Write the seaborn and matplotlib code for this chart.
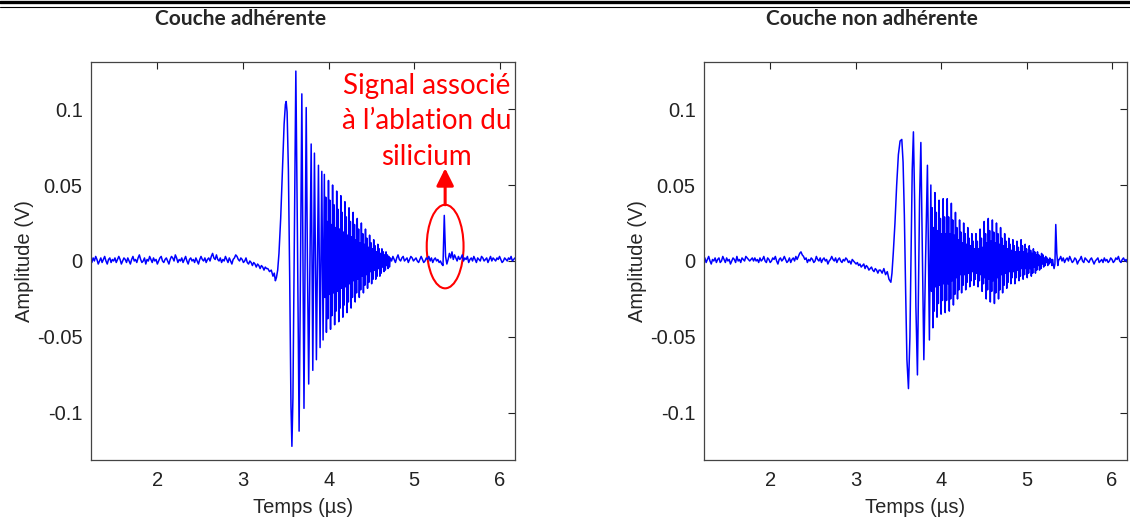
import numpy as np
import matplotlib
matplotlib.use("Agg")
import matplotlib.pyplot as plt
from matplotlib.patches import Ellipse
from matplotlib.lines import Line2D
import seaborn as sns

# ---- data (amplitudes in mV) ----
titles = ["Couche adhérente", "Couche non adhérente"]
xticks = [2, 3, 4, 5, 6]
yticks = [-0.1, -0.05, 0, 0.05, 0.1]
ytick_labels = ["-0.1", "-0.05", "0", "0.05", "0.1"]

# baseline before the burst, one sample every 0.015 us from 1.22 us
left_pre_mv = [1, -1, 2, 0, 3, 1, -2, 0, 2, -1, 1, 3, 0, -2, 1, 2, -1, 1, 0, 2,
               -1, 1, 3, 1, -2, 0, 2, 1, -1, 2, 0, -2, 1, 3, 0, 1, -1, 2, 4, 1,
               -1, 0, 2, -2, 1, 0, 3, 1, -1, 2, 0, 1, -2, 0, 2, 3, 0, -1, 1, 2,
               0, -2, 1, 3, 2, 0, 4, 2, -1, 1, 0, 2, -1, 1, 3, 0, -2, 1, 2, 0,
               1, -1, 2, 0, -2, 1, 3, 1, 0, 2, -1, 1, 2, 0, 3, 5, 2, 1, 4, 1,
               0, 2, -1, 1, 0, 3, 1, -1, 2, 0, -2, 1, 2, 4, 3, 1, 0, 2, 1, -1,
               0, 2, -1, -2, 0, -1, -3, -1, -2, -4, -2, -3, -5, -3, -4, -6, -4, -5]
right_pre_mv = [0, 2, -1, 1, 3, 0, -2, 1, 0, 2, -1, 1, 2, -1, 0, 3, 1, -1, 2, 0,
                1, -2, 0, 2, 1, -1, 3, 0, 1, -1, 2, 1, 0, 3, 2, 1, 0, 1, 2, 0,
                2, 0, 1, -1, 2, 0, 1, 3, 0, -1, 2, 1, -1, 0, 2, 1, 3, 0, -2, 1,
                2, 0, 1, 3, 1, -1, 0, 2, -1, 1, 2, 0, 3, 1, 3, 5, 6, 4, 3, 1,
                2, -1, 1, 0, 2, 1, -1, 0, 3, 1, 0, 2, -1, 1, 2, 0, 1, -2, 0, 1,
                3, 1, 0, 2, -1, 1, 2, 0, -1, 1, 0, 2, 1, -1, 0, -2, 1, 0, -1, -2,
                -1, -3, -2, -4, -3, -2, -5, -3, -4, -6, -5, -4, -6, -7, -5, -6, -8, -6]

# onset and first large cycles: extrema (time in us, amplitude in mV)
left_burst_t = [3.29, 3.31, 3.33, 3.35, 3.365, 3.378, 3.39, 3.405, 3.42, 3.44,
                3.46, 3.48, 3.495, 3.504, 3.515, 3.53, 3.545, 3.56, 3.571, 3.583,
                3.60, 3.617, 3.635, 3.655, 3.672, 3.687, 3.70, 3.712, 3.725, 3.738,
                3.752, 3.767, 3.782, 3.796, 3.815, 3.834, 3.857, 3.881, 3.900, 3.920,
                3.935]
left_burst_mv = [-5, -7, -6, -10, -8, -13, -11, -6, 5, 28,
                 60, 90, 103, 105, 98, 60, -10, -95, -122, -90,
                 20, 125, 20, -112, 0, 110, 0, -97, 0, 101,
                 0, -81, 0, 77, -72, 71, -65, 63, -57, 59,
                 -52]
right_burst_t = [3.29, 3.31, 3.33, 3.35, 3.37, 3.39, 3.412, 3.425, 3.44, 3.46,
                 3.48, 3.50, 3.52, 3.540, 3.555, 3.57, 3.585, 3.60, 3.618, 3.635,
                 3.65, 3.662, 3.676, 3.69, 3.705, 3.723, 3.735, 3.748, 3.763, 3.78,
                 3.798, 3.818, 3.840, 3.863]
right_burst_mv = [-6, -8, -5, -9, -7, -12, -14, -8, 5, 25,
                  50, 70, 79, 80, 65, 30, -20, -65, -84, -50,
                  10, 60, 85, 40, -30, -75, -20, 40, 78, 10,
                  -65, 0, 63, -52]

# dense decaying part, one sample every 0.008 us (left from 3.95 us, right from 3.88 us)
left_dense_mv = [57, -24, 42, -47, 26, -38,
                 53, -22, 40, -45, 24, -36,
                 50, -21, 37, -42, 22, -33,
                 46, -20, 34, -40, 21, -31,
                 43, -18, 32, -37, 19, -29,
                 39, -17, 29, -34, 17, -27,
                 35, -15, 26, -31, 16, -24,
                 32, -13, 24, -27, 14, -21,
                 28, -12, 21, -24, 12, -19,
                 25, -10, 18, -21, 11, -16,
                 21, -9, 15, -18, 9, -14,
                 17, -7, 12, -15, 8, -12,
                 14, -6, 10, -12, 6, -10,
                 11, -5, 8, -10, 5, -8,
                 8, -4, 6, -7, 4, -6,
                 6, -3, 4, -5, 3, -4]
right_dense_mv = [50, -20, 35, -44, 22, -33,
                  45, -17, 32, -37, 20, -28,
                  40, -16, 28, -35, 18, -26,
                  41, -15, 29, -34, 18, -26,
                  41, -15, 29, -33, 18, -25,
                  38, -13, 27, -29, 17, -22,
                  32, -11, 22, -25, 14, -19,
                  27, -9, 19, -21, 12, -16,
                  25, -9, 18, -19, 11, -14,
                  22, -8, 15, -17, 10, -13,
                  18, -7, 13, -16, 8, -12,
                  18, -8, 13, -17, 8, -13,
                  21, -9, 15, -20, 9, -15,
                  26, -11, 18, -25, 12, -19,
                  28, -12, 20, -27, 13, -20,
                  27, -13, 19, -28, 12, -21,
                  25, -11, 18, -25, 11, -19,
                  22, -9, 15, -21, 10, -16,
                  18, -8, 13, -18, 8, -14,
                  15, -7, 11, -15, 7, -11,
                  14, -7, 10, -15, 6, -11,
                  13, -6, 9, -13, 6, -10,
                  14, -5, 10, -12, 6, -9,
                  11, -5, 8, -11, 5, -8,
                  10, -5, 7, -10, 5, -8,
                  8, -4, 6, -8, 4, -6,
                  6, -3, 4, -6, 3, -5,
                  5, -2, 4, -4, 2, -3,
                  3, -1, 2, -3, 1, -2,
                  2, -1, 1, -3, 1, -2]

# silicon ablation spike on the right trace
right_spike_t = [5.322, 5.332, 5.342, 5.354, 5.366, 5.376]
right_spike_mv = [-5, -2, 24, 5, -3, 1]

# tail, one sample every 0.015 us (left from 4.72 us, spike included; right from 5.385 us)
left_post_mv = [2, 0, 3, 1, -1, 2, 4, 1, 0, 2, 3, 0, 1, 2, -1, 1, 3, 2, 0, 1,
                2, 0, -1, 1, 3, 1, -1, 0, 2, 1, 3, 0, 2, -1, 1, 2, 0, 1, -1, 0,
                -2, -3,
                30,
                3, -2, 1, 5, 2, 6, 1, 4, 2,
                0, 3, 1, 2, 4, 0, 2, 1, 3, -1, 1, 2, 0, 3, 1, -1, 2, 1, 0, 3,
                2, 0, 1, 2, -1, 1, 3, 0, 2, 1, 0, 2, 1, 3, 1, -1, 0, 2, 1, 0,
                2, 1, 3, 0, 1, 2]
right_post_mv = [1, 3, 0, 2, -1, 1, 2, 0, 3, 1, -1, 0, 2, 1, -2, 0, 1, 3, 0, -1,
                 2, 1, 0, -1, 1, 2, 0, -2, 0, 1, 2, -1, 0, 1, -1, 2, 0, 1, -1, 0,
                 2, 1, -1, 0, 2, 1, 3, 0, -1, 1, 2, 0, 1, -1]


def grid(start, step, values):
    return start + step * np.arange(len(values)), np.asarray(values, float)


def build(segments):
    t = np.concatenate([np.asarray(s[0], float) for s in segments])
    v = np.concatenate([np.asarray(s[1], float) for s in segments]) / 1000.0
    return t, v


signals = [
    build([grid(1.22, 0.015, left_pre_mv), (left_burst_t, left_burst_mv),
           grid(3.95, 0.008, left_dense_mv), grid(4.72, 0.015, left_post_mv)]),
    build([grid(1.22, 0.015, right_pre_mv), (right_burst_t, right_burst_mv),
           grid(3.88, 0.008, right_dense_mv), (right_spike_t, right_spike_mv),
           grid(5.385, 0.015, right_post_mv)]),
]

# ---- figure ----
sns.set_style("white")
plt.rcParams["font.family"] = ["Liberation Sans", "DejaVu Sans"]

fig = plt.figure(figsize=(11.3, 5.19), dpi=100)
positions = [[0.0805, 0.1137, 0.3752, 0.7669], [0.623, 0.1137, 0.3743, 0.7669]]
title_x = [0.213, 0.772]

for i, (t, v) in enumerate(signals):
    ax = fig.add_axes(positions[i])
    sns.lineplot(x=t, y=v, ax=ax, color="#0000ff", linewidth=1.1,
                 estimator=None, sort=False)
    ax.set_xlim(1.225, 6.175)
    ax.set_ylim(-0.131, 0.131)
    ax.set_xticks(xticks)
    ax.set_xticklabels([str(x) for x in xticks])
    ax.set_yticks(yticks)
    ax.set_yticklabels(ytick_labels)
    ax.tick_params(direction="in", length=5, width=0.8, top=True, right=True,
                   labelsize=14.5, colors="#222222")
    ax.tick_params(axis="x", pad=8)
    ax.tick_params(axis="y", pad=6)
    for s in ax.spines.values():
        s.set_color("#444444")
        s.set_linewidth(0.9)
    ax.set_xlabel("Temps (µs)", fontsize=14.5)
    ax.set_ylabel("Amplitude (V)", fontsize=14.5)
    ax.xaxis.set_label_coords(0.5, -0.095)
    ax.yaxis.set_label_coords(-0.135, 0.5)
    fig.text(title_x[i], 0.963, titles[i], ha="center", va="center",
             fontsize=15, fontweight="bold", family=["Lato", "DejaVu Sans"])

    if i == 0:
        ax.add_patch(Ellipse((5.36, 0.0095), width=0.43, height=0.055,
                             fill=False, edgecolor="red", linewidth=1.5))
        ax.annotate("", xy=(5.36, 0.061), xytext=(5.36, 0.037),
                    arrowprops=dict(arrowstyle="-|>", color="red", lw=2.2,
                                    mutation_scale=26, shrinkA=0, shrinkB=0))
        ax.text(5.14, 0.092, "Signal associé\nà l’ablation du\nsilicium",
                ha="center", va="center", color="red", fontsize=20,
                linespacing=1.45, family=["Lato", "DejaVu Sans"])

# double rule at the top of the page
fig.add_artist(Line2D([0, 1], [1 - 2 / 519, 1 - 2 / 519], color="black", lw=2.4))
fig.add_artist(Line2D([0, 1], [1 - 7 / 519, 1 - 7 / 519], color="black", lw=0.8))

fig.savefig("out.png", dpi=100)
